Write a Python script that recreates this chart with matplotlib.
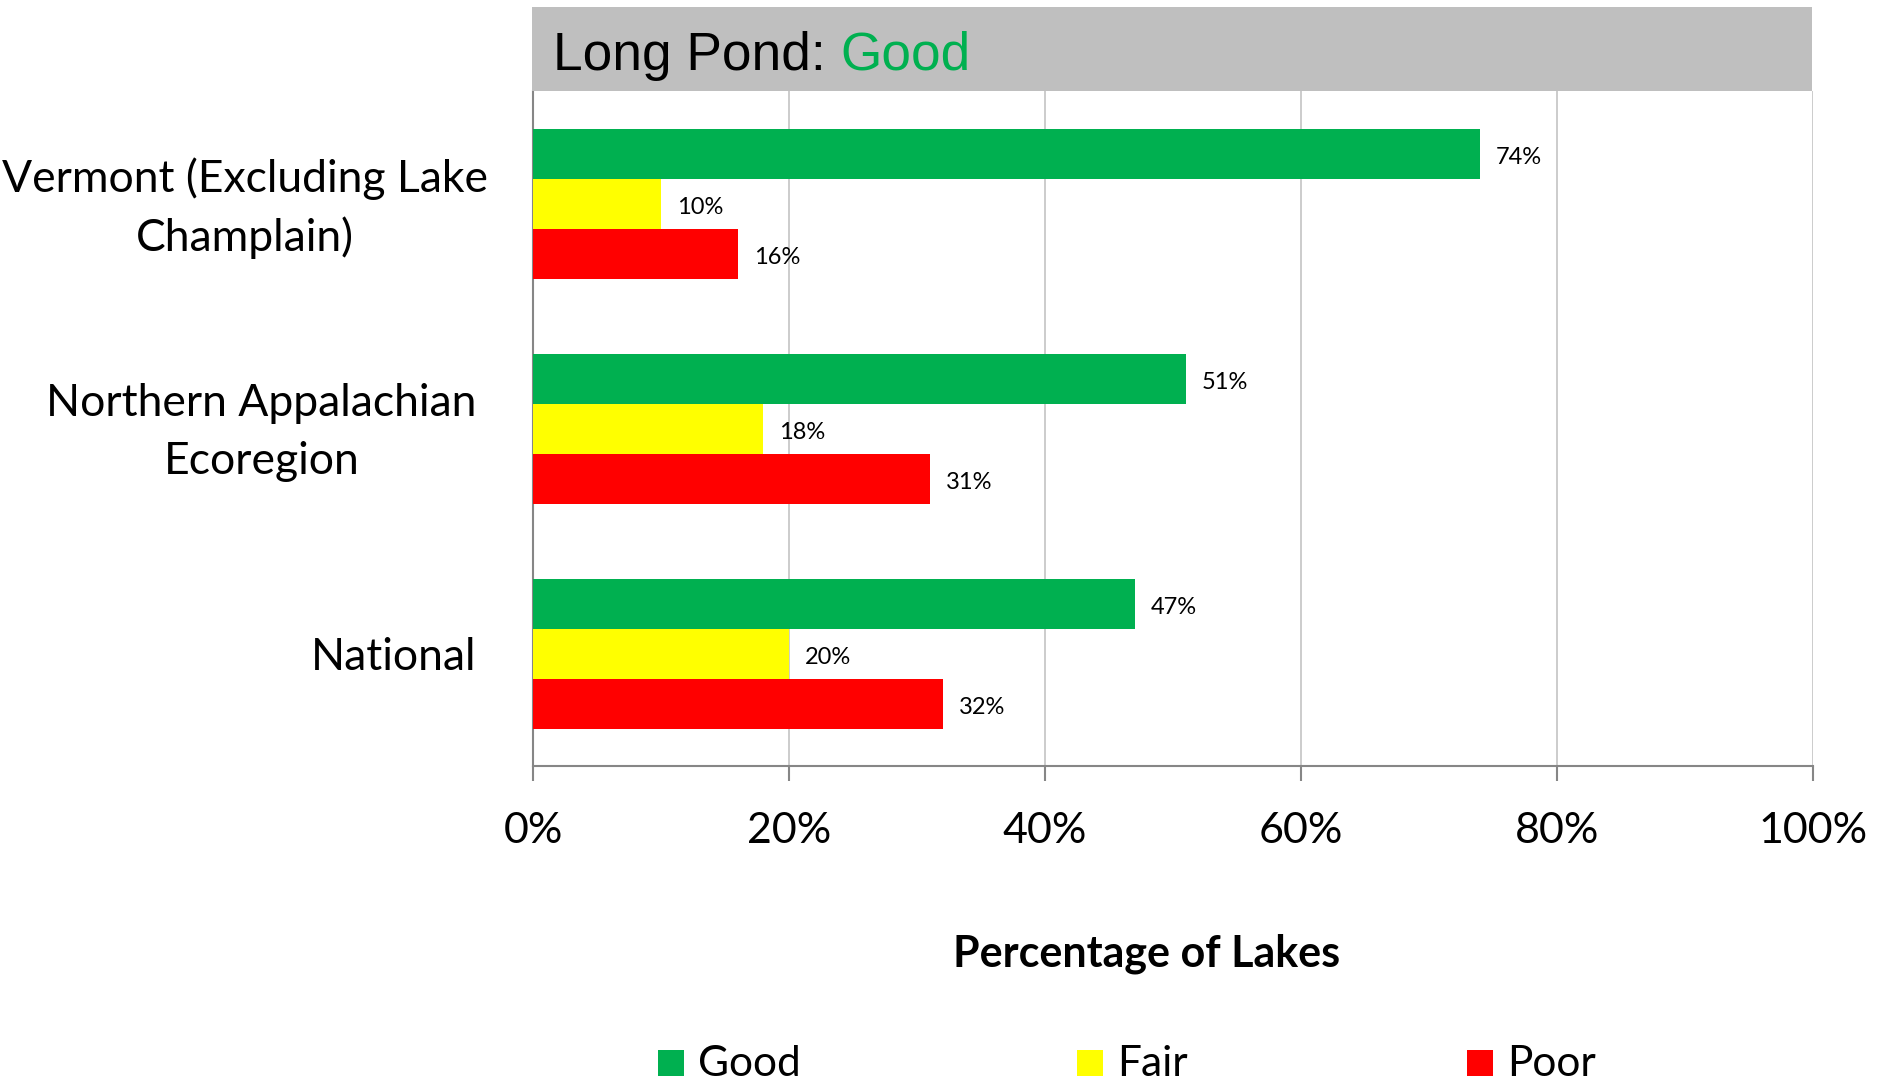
import matplotlib
matplotlib.use("Agg")
import matplotlib.pyplot as plt
from matplotlib.patches import Rectangle
from matplotlib.transforms import ScaledTranslation
import numpy as np

categories = ["Vermont (Excluding Lake\nChamplain)", "Northern Appalachian\nEcoregion", "National"]
good = [74, 51, 47]
fair = [10, 18, 20]
poor = [16, 31, 32]
series_names = ["Good", "Fair", "Poor"]
series_colors = ["#00B050", "#FFFF00", "#FF0000"]
x_ticks = [0, 20, 40, 60, 80, 100]
x_tick_labels = ["0%", "20%", "40%", "60%", "80%", "100%"]
lake_name = "Long Pond: "
lake_rating = "Good"

W, H = 1893, 1083
fig = plt.figure(figsize=(W / 100, H / 100), dpi=100)
body_font = "Lato"

L, R, B, T = 533, 1813, 766, 91
ax = fig.add_axes([L / W, 1 - B / H, (R - L) / W, (B - T) / H])

n = len(categories)
bar_h = 1 / 4.5
centers = np.arange(n)
values = [good, fair, poor]
for k, (vals, col, name) in enumerate(zip(values, series_colors, series_names)):
    ys = centers + (k - 1) * bar_h
    ax.barh(ys, vals, height=bar_h, color=col, label=name, zorder=3)
    for y, v in zip(ys, vals):
        ax.annotate(f"{v}%", xy=(v, y), xytext=(11.5, -2.6), textcoords="offset points",
                    va="center", ha="left", fontsize=17, family=body_font,
                    color="black", zorder=4)

ax.set_xlim(0, 100)
ax.set_ylim(n - 0.5, -0.5)
ax.set_yticks(centers)
ax.set_yticklabels(categories, family=body_font, fontsize=32,
                   multialignment="center", linespacing=1.5)
ax.tick_params(axis="y", length=0, pad=40.6)
# wrapped labels sit a little higher; the first one reaches further right
shifts = {0: (11, 8), 1: (0, 8)}
for i, lab in enumerate(ax.get_yticklabels()):
    dx, dy = shifts.get(i, (0, 0))
    lab.set_transform(lab.get_transform() + ScaledTranslation(dx / 100, dy / 100, fig.dpi_scale_trans))

ax.set_xticks(x_ticks)
ax.set_xticklabels(x_tick_labels, family=body_font, fontsize=31)
ax.tick_params(axis="x", length=11, width=1.5, color="#868686", pad=22, direction="out")

ax.grid(axis="x", color="#BFBFBF", linewidth=1.1, zorder=0)
for s in ["top", "right"]:
    ax.spines[s].set_visible(False)
for s in ["left", "bottom"]:
    ax.spines[s].set_color("#868686")
    ax.spines[s].set_linewidth(1.5)

fig.text(1147 / W, 1 - 954 / H, "Percentage of Lakes", ha="center", va="center",
         family=body_font, fontsize=31, fontweight="bold")

# header band
fig.add_artist(Rectangle((532 / W, 1 - 91 / H), (1812 - 532) / W, (91 - 7) / H,
                         transform=fig.transFigure, facecolor="#BFBFBF",
                         edgecolor="none", zorder=1))
t1 = fig.text(553 / W, 1 - 70 / H, lake_name, ha="left", va="baseline",
              family="Liberation Sans", fontsize=38.3, color="black", zorder=2)
fig.canvas.draw()
bb = t1.get_window_extent(fig.canvas.get_renderer())
fig.text(bb.x1 / W, 1 - 70 / H, lake_rating, ha="left", va="baseline",
         family="Liberation Sans", fontsize=38.3, color="#00B050", zorder=2)

# legend entries
legend_x = [658, 1077, 1467]
for name, col, lx in zip(series_names, series_colors, legend_x):
    fig.add_artist(Rectangle((lx / W, 1 - 1076 / H), 26 / W, 26 / H,
                             transform=fig.transFigure, facecolor=col, edgecolor="none"))
    fig.text((lx + 40) / W, 1 - 1076 / H, name, ha="left", va="baseline",
             family=body_font, fontsize=30.5)

fig.savefig("out.png", dpi=100)
